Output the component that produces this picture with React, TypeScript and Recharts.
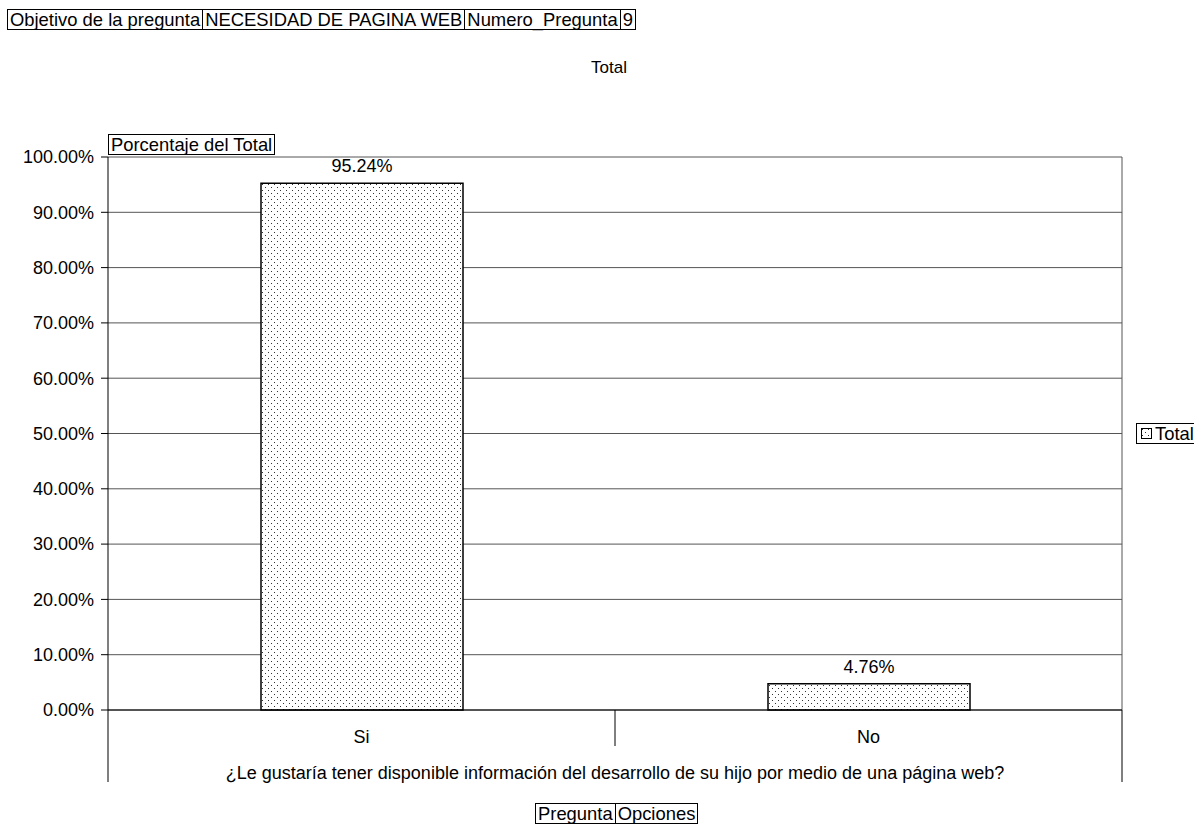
import React from 'react';
import {
  BarChart,
  Bar,
  XAxis,
  YAxis,
  CartesianGrid,
  LabelList,
  Legend,
} from 'recharts';

const categorias = ['Si', 'No'];
const totales = [95.24, 4.76];
const yTicks = [0, 10, 20, 30, 40, 50, 60, 70, 80, 90, 100];
const encabezado = ['Objetivo de la pregunta', 'NECESIDAD DE PAGINA WEB', 'Numero_Pregunta', '9'];
const pieCampos = ['Pregunta', 'Opciones'];
const pregunta = '¿Le gustaría tener disponible información del desarrollo de su hijo por medio de una página web?';

const data = categorias.map((c, i) => ({ name: c, Total: totales[i] }));

const FONT = '"Liberation Sans", Arial, sans-serif';
const FS = 18;
const BOX_FS = 18.4;
const W = 1194;
const H = 825;
const PLOT_LEFT = 108;
const PLOT_RIGHT = 1122;
const PLOT_TOP = 157;
const PLOT_BOTTOM = 710;
const Y_AXIS_W = 100;
const X_AXIS_H = 72;
const BAND = (PLOT_RIGHT - PLOT_LEFT) / categorias.length;

const boxStyle: React.CSSProperties = {
  border: '1px solid #000',
  padding: '0 2px',
  lineHeight: '19px',
  fontSize: BOX_FS,
  fontFamily: FONT,
  background: '#fff',
  whiteSpace: 'nowrap',
};

function BoxRow({ items, style }: { items: string[]; style: React.CSSProperties }) {
  return (
    <div style={{ position: 'absolute', display: 'flex', ...style }}>
      {items.map((t, i) => (
        <div key={i} style={{ ...boxStyle, borderLeft: i === 0 ? '1px solid #000' : 'none' }}>
          {t}
        </div>
      ))}
    </div>
  );
}

function CategoryTick(props: any) {
  const { x, payload, index } = props;
  const left = x - BAND / 2;
  const right = x + BAND / 2;
  const last = index === categorias.length - 1;
  return (
    <g>
      {index === 0 && (
        <line x1={left} y1={PLOT_BOTTOM} x2={left} y2={PLOT_BOTTOM + 72} stroke="#000" />
      )}
      <line x1={right} y1={PLOT_BOTTOM} x2={right} y2={PLOT_BOTTOM + (last ? 72 : 36)} stroke="#000" />
      <text x={x} y={PLOT_BOTTOM + 33} textAnchor="middle" fontSize={FS} fontFamily={FONT} fill="#000">
        {payload.value}
      </text>
    </g>
  );
}

function LegendBox() {
  return (
    <div style={{ ...boxStyle, display: 'flex', alignItems: 'center', paddingLeft: 4 }}>
      <svg width={11} height={11} style={{ marginRight: 3 }}>
        <rect x={0.5} y={0.5} width={10} height={10} fill="url(#dots)" stroke="#000" />
      </svg>
      Total
    </div>
  );
}

export default function App() {
  return (
    <div style={{ position: 'absolute', left: 0, top: 0, width: W, height: H, background: '#fff', fontFamily: FONT, overflow: 'hidden' }}>
      <BoxRow items={encabezado} style={{ left: 7, top: 9 }} />
      <div style={{ position: 'absolute', left: 0, width: 1218, top: 58, textAlign: 'center', fontSize: 17, lineHeight: '19px' }}>
        Total
      </div>
      <BarChart
        width={W}
        height={H}
        data={data}
        margin={{ top: PLOT_TOP, right: W - PLOT_RIGHT, bottom: H - PLOT_BOTTOM - X_AXIS_H, left: PLOT_LEFT - Y_AXIS_W }}
        barSize={202}
      >
        <defs>
          <pattern id="dots" width={6} height={6} patternUnits="userSpaceOnUse">
            <rect width={6} height={6} fill="#fff" />
            <rect x={1} y={1} width={1} height={1} fill="#333" />
            <rect x={4} y={4} width={1} height={1} fill="#333" />
          </pattern>
        </defs>
        <CartesianGrid
          stroke="#555"
          horizontal
          vertical
          verticalPoints={[PLOT_RIGHT]}
        />
        <XAxis
          dataKey="name"
          height={X_AXIS_H}
          axisLine={{ stroke: '#000' }}
          tickLine={false}
          tick={<CategoryTick />}
          interval={0}
          label={{ value: pregunta, position: 'insideBottom', offset: 3, fill: '#000', fontSize: FS, fontFamily: FONT }}
        />
        <YAxis
          width={Y_AXIS_W}
          domain={[0, 100]}
          ticks={yTicks}
          interval={0}
          axisLine={{ stroke: '#000' }}
          tickLine={{ stroke: '#000' }}
          tickSize={7}
          tickMargin={7}
          tickFormatter={(v: number) => v.toFixed(2) + '%'}
          tick={{ fill: '#000', fontSize: FS, fontFamily: FONT }}
        />
        <Legend
          layout="horizontal"
          verticalAlign="middle"
          align="center"
          wrapperStyle={{ left: 1136, top: 423, width: 'auto' }}
          content={() => <LegendBox />}
        />
        <Bar dataKey="Total" fill="url(#dots)" stroke="#000" strokeWidth={1.5} isAnimationActive={false}>
          <LabelList
            dataKey="Total"
            position="top"
            offset={11}
            formatter={(v: any) => Number(v).toFixed(2) + '%'}
            fill="#000"
            fontSize={FS}
            fontFamily={FONT}
          />
        </Bar>
      </BarChart>
      <div style={{ position: 'absolute', left: 108, top: 134 }}>
        <div style={boxStyle}>Porcentaje del Total</div>
      </div>
      <BoxRow items={pieCampos} style={{ left: 535, top: 803 }} />
    </div>
  );
}
